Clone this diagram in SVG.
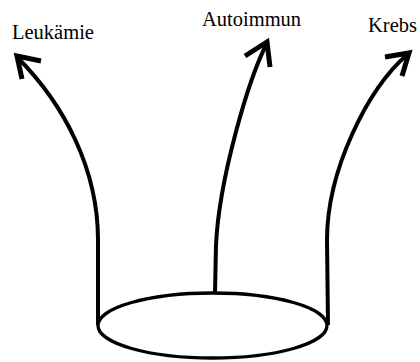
<svg xmlns="http://www.w3.org/2000/svg" width="420" height="362" viewBox="0 0 420 362">
<style>
.lbl{font-family:"Liberation Serif","Times New Roman",serif;font-size:20.5px;fill:#000}
.ln{fill:none;stroke:#000;stroke-width:4;stroke-linecap:butt}
.hd{fill:none;stroke:#000;stroke-width:5;stroke-linejoin:miter;stroke-linecap:butt}
.el{fill:#fff;stroke:#000;stroke-width:3.3}
</style>
<rect width="420" height="362" fill="#fff"/>
<g id="connectors">
<path class="ln" d="M98,325 L98,240 C98,170 65,105 17,57"/>
<path class="hd" d="M41,61 L17,56 L22,79"/>
<path class="ln" d="M215,293 L216,245 C219,180 248,80 267,43"/>
<path class="hd" d="M245,56 L267,42 L270,67"/>
<path class="ln" d="M328,325 L327,240 C327,170 368,88 408,54"/>
<path class="hd" d="M385,57 L409,53 L402,76"/>
</g>
<g id="base">
<ellipse class="el" cx="212.5" cy="325.5" rx="114.5" ry="32.5"/>
</g>
<g id="leukaemie">
<text class="lbl" x="12" y="38.5">Leukämie</text>
</g>
<g id="autoimmun">
<text class="lbl" x="202" y="26">Autoimmun</text>
</g>
<g id="krebs">
<text class="lbl" x="368" y="31.5">Krebs</text>
</g>
</svg>
